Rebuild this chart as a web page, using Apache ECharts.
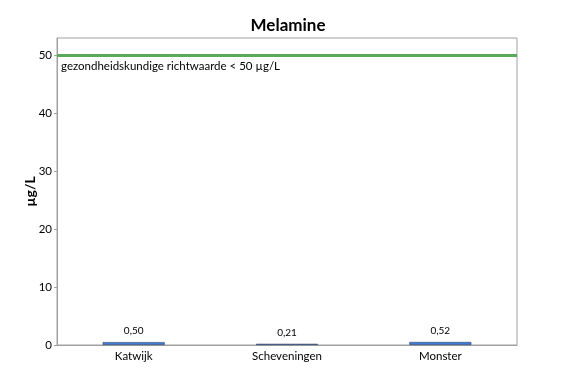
<!DOCTYPE html>
<html>
<head>
<meta charset="utf-8">
<script src="https://cdn.jsdelivr.net/npm/echarts@6/dist/echarts.min.js"></script>
<style>html,body{margin:0;padding:0;background:#fff;}#c{width:576px;height:384px;}</style>
</head>
<body>
<div id="c"></div>
<script>
const categories = ['Katwijk', 'Scheveningen', 'Monster'];
const values = [0.50, 0.21, 0.52];
const threshold = 50;
const thresholdLabel = 'gezondheidskundige richtwaarde < 50 µg/L';
const yTicks = [0, 10, 20, 30, 40, 50];

const chart = echarts.init(document.getElementById('c'));
const font = 'Lato';
chart.setOption({
  animation: false,
  title: {
    text: 'Melamine', left: 'center', top: 12,
    textStyle: { fontFamily: font, fontSize: 17, fontWeight: 'bold', color: '#000' }
  },
  grid: { left: 57, right: 59, top: 38, bottom: 39, show: true, borderColor: '#a0a0a0', borderWidth: 1 },
  xAxis: {
    type: 'category', data: categories,
    axisLine: { lineStyle: { color: '#a0a0a0' } },
    axisTick: { alignWithLabel: true, length: 3, lineStyle: { color: '#a0a0a0' } },
    axisLabel: { fontFamily: font, fontSize: 11.5, color: '#000', margin: 5 }
  },
  yAxis: {
    type: 'value', min: 0, max: 53, interval: 10,
    name: 'µg/L', nameLocation: 'middle', nameGap: 20, nameMoveOverlap: false,
    nameTextStyle: { fontFamily: font, fontSize: 14, fontWeight: 'bold', color: '#000' },
    axisLine: { show: true, lineStyle: { color: '#a0a0a0' } },
    axisTick: { show: true, length: 3, lineStyle: { color: '#a0a0a0' } },
    axisLabel: { fontFamily: font, fontSize: 11.5, color: '#000', margin: 5,
      showMaxLabel: false,
      formatter: v => yTicks.includes(v) ? String(v) : '' },
    splitLine: { show: false }
  },
  series: [{
    type: 'bar', data: values, barWidth: 62,
    itemStyle: { color: '#3a7ddb', borderColor: '#3a4560', borderWidth: 0.6 },
    label: { show: true, position: 'top', distance: 6, fontFamily: font, fontSize: 10, color: '#000',
      formatter: p => p.value.toFixed(2).replace('.', ',') },
    markLine: {
      symbol: 'none', silent: true,
      lineStyle: { color: '#5aa85a', width: 3, type: 'solid' },
      label: { show: true, position: 'insideStartBottom', formatter: thresholdLabel,
        fontFamily: font, fontSize: 11.5, color: '#000', distance: [4, 5] },
      data: [{ yAxis: threshold }]
    }
  }]
});
</script>
</body>
</html>
